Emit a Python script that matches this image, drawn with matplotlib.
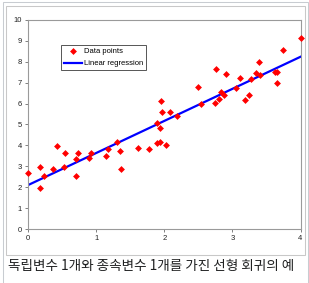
import matplotlib
matplotlib.use("Agg")
import matplotlib.pyplot as plt
from matplotlib.lines import Line2D
from matplotlib.patches import Rectangle

# Data
x_points = [0.00, 0.17, 0.17, 0.23, 0.37, 0.43, 0.54, 0.53, 0.70, 0.70, 0.73, 0.89, 0.92,
            1.15, 1.18, 1.31, 1.35, 1.37, 1.62, 1.77, 1.90, 1.94, 2.03, 1.90, 1.94, 1.95, 1.97, 2.08,
            2.19, 2.50, 2.54, 2.75, 2.81, 2.76, 2.90, 2.84, 2.88, 3.06, 3.11,
            3.18, 3.25, 3.28, 3.35, 3.39, 3.40, 3.62, 3.66, 3.65, 3.75, 4.00]
y_points = [2.66, 1.95, 2.95, 2.54, 2.89, 3.97, 3.65, 2.95, 2.54, 3.35, 3.62, 3.38, 3.62,
            3.51, 3.83, 4.15, 3.73, 2.87, 3.89, 3.83, 4.10, 4.18, 4.02, 5.09, 4.85, 6.14, 5.58, 5.58,
            5.41, 6.78, 5.97, 6.04, 6.20, 7.66, 7.43, 6.56, 6.40, 6.75, 7.22,
            6.17, 6.43, 7.18, 7.48, 7.99, 7.37, 7.53, 7.50, 7.00, 8.55, 9.12]
line_x = [0.0, 4.0]
line_y = [2.10, 8.24]
x_ticks = [0, 1, 2, 3, 4]
y_ticks = [0, 1, 2, 3, 4, 5, 6, 7, 8, 9, 10]
legend_labels = ["Data points", "Linear regression"]
caption = "독립변수 1개와 종속변수 1개를 가진 선형 회귀의 예"

W, H = 309, 283
fig = plt.figure(figsize=(W / 100, H / 100), dpi=100)
fig.patch.set_facecolor("white")

# Thumbnail frames
def px_rect(x0, y0, x1, y1, color, lw=0.75):
    fig.add_artist(Rectangle((x0 / W, 1 - y1 / H), (x1 - x0) / W, (y1 - y0) / H,
                             transform=fig.transFigure, fill=False, edgecolor=color, linewidth=lw))

px_rect(3, 2, 307.5, 290, "#c8ccd1")
px_rect(5.5, 5.5, 305, 255, "#c8c8c8")

ax = fig.add_axes([28 / W, 1 - 229 / H, (300.5 - 28) / W, (229 - 20) / H])
ax.set_xlim(0, 4)
ax.set_ylim(0, 10)

ax.plot(line_x, line_y, color="#0000ff", linewidth=1.6, label=legend_labels[1], zorder=2)
ax.plot(x_points, y_points, linestyle="none", marker="D", markersize=3.5,
        color="#ff0000", markeredgewidth=0, label=legend_labels[0], zorder=3, clip_on=False)

for s in ax.spines.values():
    s.set_color("#9a9a9a")
    s.set_linewidth(0.8)

ax.set_xticks(x_ticks)
ax.set_yticks(y_ticks)
ax.tick_params(axis="both", direction="out", length=2.2, width=0.7, color="#808080",
               labelsize=5.5, labelcolor="#222222", pad=2)
for lbl in ax.get_xticklabels() + ax.get_yticklabels():
    lbl.set_fontfamily("Liberation Sans")

handles = [Line2D([], [], linestyle="none", marker="D", markersize=3.5, color="#ff0000",
                  markeredgewidth=0),
           Line2D([], [], color="#0000ff", linewidth=1.6)]
leg = ax.legend(handles, legend_labels, loc="upper left",
                bbox_to_anchor=((61 - 28) / (300.5 - 28), (229 - 45) / (229 - 20)),
                prop={"family": "Liberation Sans", "size": 5.5},
                frameon=True, fancybox=False, edgecolor="#555555", framealpha=1,
                borderpad=0.4, handlelength=2.3, handletextpad=0.25, labelspacing=0.6,
                borderaxespad=0)
leg.get_frame().set_linewidth(0.7)

fig.text(8 / W, 1 - 266 / H, caption, fontsize=9.8, va="center", ha="left",
         family=["Noto Sans CJK KR", "DejaVu Sans"], color="#202122")

fig.savefig("out.png", dpi=100, facecolor="white")
